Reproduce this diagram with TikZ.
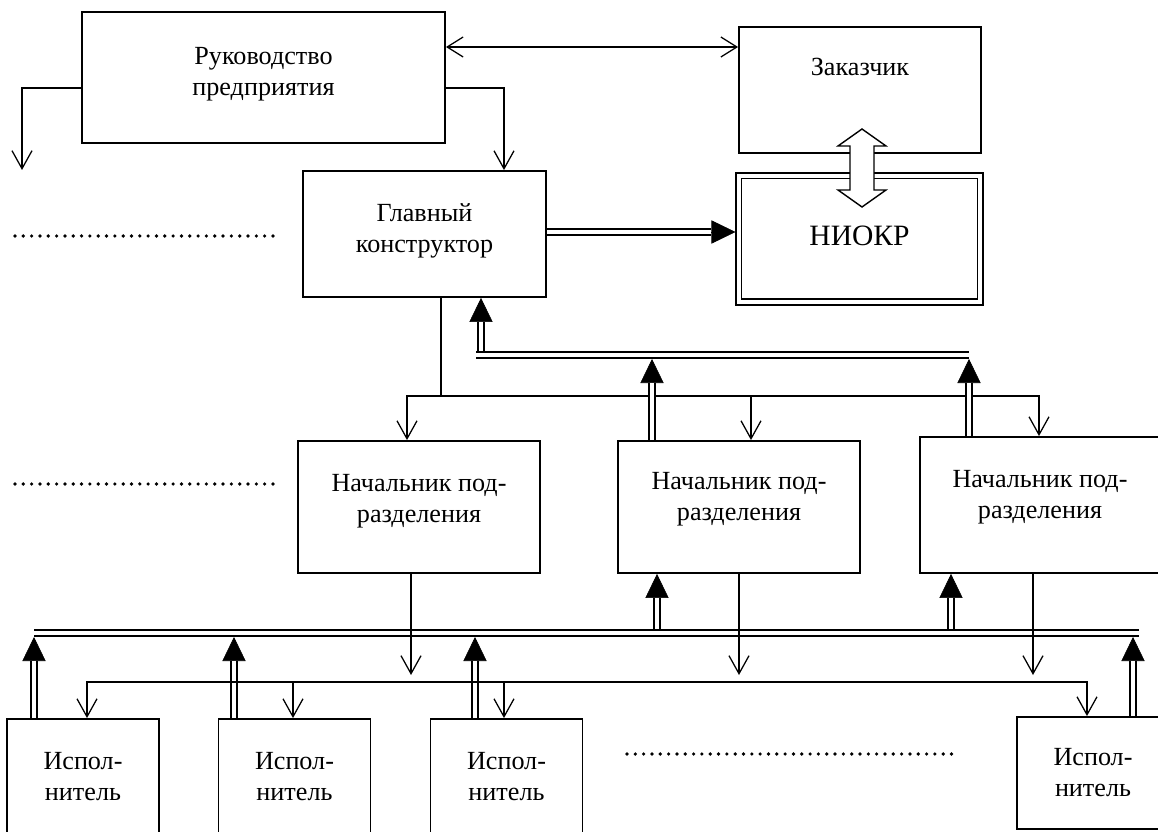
\documentclass[tikz,border=0pt]{standalone}
\usepackage{fontspec}
\setmainfont{Liberation Serif}
\usetikzlibrary{arrows.meta}

\tikzset{
  blk/.style={draw, line width=1.3pt, inner sep=0pt},
  txt/.style={align=center, font=\fontsize{18.6}{22}\selectfont},
  thinln/.style={line width=0.9pt},
  arr/.style={thinln, -{Straight Barb[length=0.45cm,width=0.5cm]}},
  arrboth/.style={thinln, {Straight Barb[length=0.4cm,width=0.5cm]}-{Straight Barb[length=0.4cm,width=0.5cm]}},
  dbl/.style={line width=1.2pt, double=white, double distance=2.8pt},
  tipped/.style={line width=0.4pt, -{Triangle[length=0.6cm,width=0.58cm]}},
  dotrow/.style={line width=2.6pt, line cap=round, dash pattern=on 0pt off 0.208cm},
}
% double shaft with a solid head
\newcommand{\dblarrow}[2]{%
  \draw[tipped] #1 -- #2;
  \draw[dbl, shorten >=0.6cm] #1 -- #2;}

\begin{document}
\begin{tikzpicture}[x=0.025cm, y=-0.025cm]
\useasboundingbox (0,0) rectangle (1158,832);
\clip (0,0) rectangle (1158,832);

% blocks
\node[blk, minimum width=9.075cm, minimum height=3.275cm,
  label={[txt,yshift=0.09cm]center:Руководство\\предприятия}] (ruk) at (263.5,77.5) {};
\node[blk, minimum width=6.05cm, minimum height=3.15cm,
  label={[txt,yshift=0.57cm]center:Заказчик}] (zak) at (860,90) {};
\node[blk, double, double distance=2.4pt, outer sep=2.4pt, minimum width=6.03cm, minimum height=3.15cm,
  label={[font=\fontsize{21}{25}\selectfont,yshift=0.07cm]center:НИОКР}] (niokr) at (859.5,239) {};
\node[blk, minimum width=6.075cm, minimum height=3.15cm,
  label={[txt,yshift=0.08cm]center:Главный\\конструктор}] (glav) at (424.5,234) {};
\node[blk, minimum width=6.05cm, minimum height=3.3cm,
  label={[txt,yshift=0.14cm]center:Начальник под-\\разделения}] (n1) at (419,507) {};
\node[blk, minimum width=6.05cm, minimum height=3.3cm,
  label={[txt,yshift=0.19cm]center:Начальник под-\\разделения}] (n2) at (739,507) {};
\node[blk, minimum width=6cm, minimum height=3.4cm,
  label={[txt,yshift=0.2cm]center:Начальник под-\\разделения}] (n3) at (1040,505) {};
\foreach \x/\n in {83/isp1, 294.5/isp2, 506.5/isp3}
  \node[blk, minimum width=3.8cm, minimum height=2.9cm,
    label={[txt]center:Испол-\\нитель}] (\n) at (\x,777) {};
\node[blk, minimum width=3.8cm, minimum height=2.8cm,
  label={[txt]center:Испол-\\нитель}] (isp4) at (1093,773) {};

% top links
\coordinate (rk) at (504,88);
\coordinate (lk) at (22,170);
\coordinate (tp) at (600,47);
\draw[arr] (ruk.west |- rk) -| (lk);
\draw[arr] (ruk.east |- rk) -| (glav.north -| rk);
\draw[arrboth] (ruk.east |- tp) -- (zak.west |- tp);
\coordinate (gn) at (640,232);
\dblarrow{(glav.east |- gn)}{(niokr.west |- gn)}
\coordinate (fa) at (862,168);
\draw[line width=1pt, fill=white, shift={(fa)}] (0,-39) -- (24,-22) -- (12,-22) -- (12,22) -- (24,22)
  -- (0,39) -- (-24,22) -- (-12,22) -- (-12,-22) -- (-24,-22) -- cycle;

% glav -> heads of departments
\coordinate (d1) at (441,396);
\coordinate (ha1) at (407,396);
\coordinate (ha2) at (751,396);
\coordinate (ha3) at (1039,396);
\draw[thinln] (glav.south -| d1) -- (d1);
\draw[arr] (ha3) -- (ha1) -- (n1.north -| ha1);
\draw[arr] (ha1) -- (ha3) -- (n3.north -| ha3);
\draw[arr] (ha2) -- (n2.north -| ha2);

% heads -> glav
\coordinate (ug) at (481,351.5);
\dblarrow{(ug)}{(glav.south -| ug)}
\foreach \x/\n in {652/n2, 969/n3}{
  \coordinate (u) at (\x,359);
  \dblarrow{(\n.north -| u)}{(u)}
}
\draw[dbl] (476,355) coordinate (ub1) -- (969,355) coordinate (ub2);

% executors -> heads
\foreach \x/\n in {657/n2, 951/n3}{
  \coordinate (v) at (\x,629.5);
  \dblarrow{(v)}{(\n.south -| v)}
}
\foreach \x/\n in {34/isp1, 234/isp2, 475/isp3, 1133/isp4}{
  \coordinate (w) at (\x,637);
  \dblarrow{(\n.north -| w)}{(w)}
}
\draw[dbl] (34,633) coordinate (lb1) -- (1139,633) coordinate (lb2);

% heads -> executors
\foreach \x/\n in {411/n1, 739/n2, 1033/n3}{
  \coordinate (dn) at (\x,675);
  \draw[arr] (\n.south -| dn) -- (dn);
}
\coordinate (h1) at (87,682);
\coordinate (h4) at (1087,682);
\draw[arr] (h4) -- (h1) -- (isp1.north -| h1);
\draw[arr] (h1) -- (h4) -- (isp4.north -| h4);
\foreach \x/\n in {293/isp2, 504/isp3}{
  \coordinate (hx) at (\x,682);
  \draw[arr] (hx) -- (\n.north -| hx);
}

% dotted rows
\draw[dotrow] (15,236) -- (274,236);
\draw[dotrow] (15,484) -- (274,484);
\draw[dotrow] (627,754) -- (958,754);
\end{tikzpicture}
\end{document}
